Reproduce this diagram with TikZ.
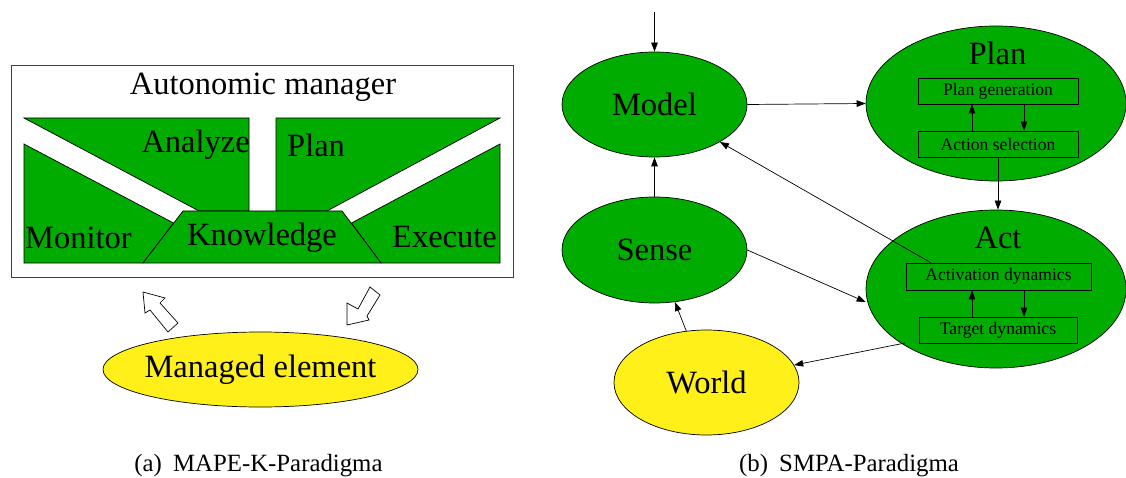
\documentclass[tikz,border=0pt]{standalone}
\usepackage{fontspec}
\setmainfont{Liberation Serif}
\usetikzlibrary{shapes.geometric,arrows.meta,calc}

\definecolor{blockgreen}{RGB}{0,172,0}
\definecolor{elemyellow}{RGB}{255,240,25}

\tikzset{
  big/.style={font=\fontsize{32.5}{38}\selectfont},
  small/.style={font=\fontsize{17.6}{21}\selectfont},
  captxt/.style={font=\fontsize{24.8}{29}\selectfont},
  part/.style={draw=black, line width=0.7pt, fill=blockgreen, line join=miter},
  hollow/.style={draw=black, line width=0.7pt, fill=white, line join=miter},
  oval/.style={ellipse, draw=black, line width=0.7pt, inner sep=0pt},
  greenoval/.style={oval, fill=blockgreen},
  yellowoval/.style={oval, fill=elemyellow},
  box/.style={rectangle, draw=black, line width=0.7pt, inner sep=0pt, small},
  link/.style={draw=black, line width=0.7pt, -{Triangle[length=9pt,width=6.5pt]}},
}

\begin{document}
\begin{tikzpicture}[x=1pt, y=-1pt]
\useasboundingbox (0,0) rectangle (1126,478);

% ---------- (a) MAPE-K ----------
\draw[draw=black!75, line width=0.9pt] (11,65) rectangle (513,277);
\node[big] (am) at (263,87) {Autonomic manager};

% the four phases around the shared knowledge
\draw[part] (24,118) -- (249,118) -- (249,211) -- (199,211) -- cycle;
\draw[part] (276,118) -- (500,118) -- (327,211) -- (276,211) -- cycle;
\draw[part] (24,144) -- (173.5,223) -- (143,263) -- (24,263) -- cycle;
\draw[part] (500,144) -- (351.5,223) -- (381,263) -- (500,263) -- cycle;
\draw[part] (183,211) -- (342,211) -- (381,263) -- (143,263) -- cycle;

\node[big, anchor=east, inner sep=0pt] (lanalyze) at (250,144.5) {Analyze};
\node[big, anchor=west, inner sep=0pt] (lplan) at (287,145.5) {Plan};
\node[big, anchor=west, inner sep=0pt] (lmonitor) at (25,237.5) {Monitor};
\node[big, anchor=east, inner sep=0pt] (lexecute) at (497,237.5) {Execute};
\node[big] (lknow) at (262,238) {Knowledge};

% managed element and the hollow block arrows
\node[yellowoval, minimum width=315pt, minimum height=75pt] (me) at (260.5,369.5) {};
\node[big] at (me.center) {Managed element};

\draw[hollow] (143,292) -- (165,298) -- (160,303) -- (178,323) -- (168,332)
  -- (150,310) -- (145,313) -- cycle;
\draw[hollow] (347,325) -- (347,303) -- (358,309) -- (370,287) -- (380,295)
  -- (367,316) -- (369,320) -- cycle;

\node[captxt] (capa) at (258.5,466) {(a)\hspace{0.45em}MAPE-K-Paradigma};

% ---------- (b) SMPA ----------
\node[greenoval, minimum width=185pt, minimum height=105pt] (model) at (654.5,104.5) {};
\node[big] at (model.center) {Model};
\node[greenoval, minimum width=185pt, minimum height=106pt] (sense) at (654.5,250) {};
\node[big] at (sense.center) {Sense};
\node[yellowoval, minimum width=185pt, minimum height=105pt] (world) at (706.5,382.5) {};
\node[big] at (world.center) {World};

\node[greenoval, minimum width=260pt, minimum height=155pt] (plan) at (996,103.5) {};
\node[big] (plantitle) at (997.5,53) {Plan};
\node[box, minimum width=160pt, minimum height=26pt] (pg) at (998,91) {Plan generation};
\node[box, minimum width=160pt, minimum height=26pt] (as) at (998,144) {Action selection};

\node[greenoval, minimum width=260pt, minimum height=158pt] (act) at (996,289) {};
\node[big] (acttitle) at (998,238) {Act};
\node[box, minimum width=185pt, minimum height=27pt] (ad) at (998.5,276.5) {Activation dynamics};
\node[box, minimum width=158pt, minimum height=26pt] (td) at (998,330) {Target dynamics};

\coordinate (xup) at (972,0);
\coordinate (xdown) at (1024,0);
\coordinate (input) at (654.5,12);
\coordinate (adout) at ($(ad.north west)!0.135!(ad.north east)$);
\coordinate (actout) at (905,343);

% connectors
\draw[link] (input) -- (model.north);
\draw[link] (sense.north) -- (model.south);
\draw[link] (world) -- (sense);
\draw[link] (model.east) -- (plan.west);
\draw[link] (sense.east) -- ([yshift=-13pt]act.west);
\draw[link] (adout) -- (model);
\draw[link] (actout) -- (world);
\draw[link] (as.south) -- (as.south |- act.north);

\draw[link] (as.north -| xup) -- (pg.south -| xup);
\draw[link] (pg.south -| xdown) -- (as.north -| xdown);
\draw[link] (td.north -| xup) -- (ad.south -| xup);
\draw[link] (ad.south -| xdown) -- (td.north -| xdown);

\node[captxt] (capb) at (849,466) {(b)\hspace{0.45em}SMPA-Paradigma};
\end{tikzpicture}
\end{document}
